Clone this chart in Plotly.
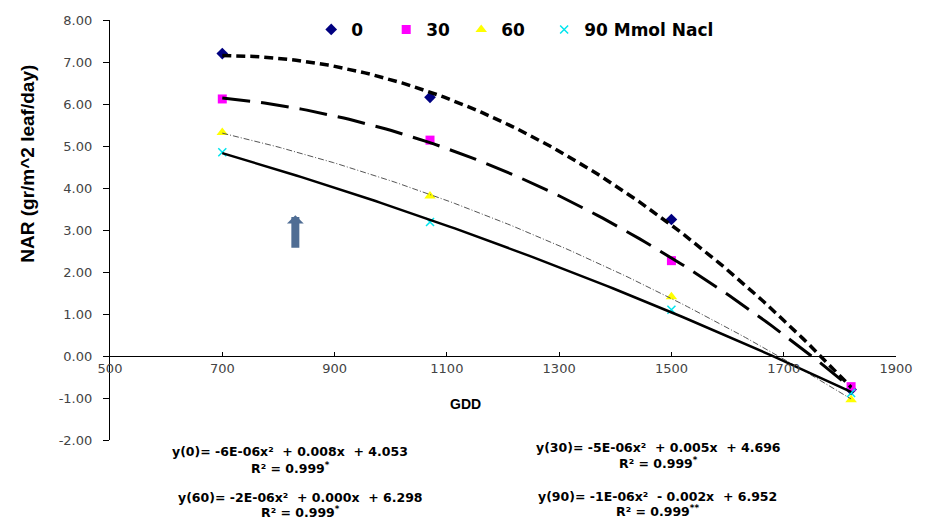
import numpy as np
import plotly.graph_objects as go

# Growing degree days at each sampling
gdd = [700, 1070, 1500, 1820]

# Net assimilation rate per salinity level
nar_0 = [7.20, 6.16, 3.25, -0.80]
nar_30 = [6.12, 5.14, 2.27, -0.73]
nar_60 = [5.32, 3.81, 1.41, -1.04]
nar_90 = [4.85, 3.19, 1.10, -0.88]

series_names = ["0", "30", "60", "90 Mmol Nacl"]

x_tick_vals = [500, 700, 900, 1100, 1300, 1500, 1700, 1900]
y_tick_vals = [-2, -1, 0, 1, 2, 3, 4, 5, 6, 7, 8]
y_tick_labels = ["-2.00", "-1.00", "0.00", "1.00", "2.00", "3.00",
                 "4.00", "5.00", "6.00", "7.00", "8.00"]

equations = [
    ("y(0)= -6E-06x²  + 0.008x  + 4.053", "R² = 0.999<sup>*</sup>"),
    ("y(30)= -5E-06x²  + 0.005x  + 4.696", "R² = 0.999<sup>*</sup>"),
    ("y(60)= -2E-06x²  + 0.000x  + 6.298", "R² = 0.999<sup>*</sup>"),
    ("y(90)= -1E-06x²  - 0.002x  + 6.952", "R² = 0.999<sup>**</sup>"),
]

markers = [
    dict(symbol="diamond", size=9, color="#000080"),
    dict(symbol="square", size=9, color="#FF00FF"),
    dict(symbol="triangle-up", size=10, color="#FFFF00"),
    dict(symbol="x-thin", size=8, color="#00E5EE", line=dict(color="#00E5EE", width=1.5)),
]
legend_ids = ["legend", "legend", "legend", "legend2"]
trend_styles = [
    dict(color="black", width=3.5, dash="9px,5px"),
    dict(color="black", width=3, dash="28px,11px"),
    dict(color="#555555", width=1, dash="6px,2px,1px,2px"),
    dict(color="black", width=2.5, dash="solid"),
]

all_series = [nar_0, nar_30, nar_60, nar_90]

fig = go.Figure()

# Observed points
for name, vals, mk, lg in zip(series_names, all_series, markers, legend_ids):
    fig.add_trace(go.Scatter(x=gdd, y=vals, mode="markers", name=name,
                             marker=mk, legend=lg, hoverinfo="skip"))

# Second-order polynomial trend lines fitted to each series
xs = np.linspace(min(gdd), max(gdd), 120)
for vals, st in zip(all_series, trend_styles):
    coef = np.polyfit(gdd, vals, 2)
    fig.add_trace(go.Scatter(x=xs, y=np.polyval(coef, xs), mode="lines",
                             line=st, showlegend=False, hoverinfo="skip"))

tick_font = dict(family="DejaVu Sans", size=13, color="#444444")
legend_font = dict(family="DejaVu Sans", size=17, color="black", weight="bold")

fig.update_layout(
    width=925, height=519,
    margin=dict(l=110, r=22, t=14, b=79),
    paper_bgcolor="white", plot_bgcolor="white",
    showlegend=True,
    legend=dict(orientation="h", x=(313 - 110) / 793, xanchor="left",
                y=(440 - 24) / 426, yanchor="middle", font=legend_font,
                entrywidth=30, entrywidthmode="pixels", itemwidth=30,
                bgcolor="rgba(0,0,0,0)", traceorder="normal"),
    legend2=dict(orientation="h", x=(548 - 110) / 793, xanchor="left",
                 y=(440 - 24) / 426, yanchor="middle", font=legend_font,
                 itemwidth=30, bgcolor="rgba(0,0,0,0)"),
    xaxis=dict(range=[500, 1900], tickvals=x_tick_vals, showgrid=False, zeroline=False,
               showline=True, linecolor="black", linewidth=1.2,
               ticks="inside", ticklen=4, tickcolor="black",
               anchor="free", position=0.2, tickfont=tick_font, ticklabelstandoff=0),
    yaxis=dict(range=[-2, 8], tickvals=y_tick_vals, ticktext=y_tick_labels,
               showgrid=False, zeroline=False, showline=True, linecolor="black",
               linewidth=1.2, ticks="outside", ticklen=6, tickcolor="black",
               tickfont=tick_font, ticklabelstandoff=8),
)

annotations = [
    # axis titles
    dict(text="NAR (gr/m^2 leaf/day)", xref="paper", yref="paper",
         x=(27 - 110) / 793, y=(440 - 160) / 426, xanchor="center", yanchor="middle",
         textangle=-90, showarrow=False,
         font=dict(family="Liberation Sans", size=19, color="black", weight="bold")),
    dict(text="GDD", xref="paper", yref="paper", x=(469 - 110) / 793, y=(440 - 403) / 426,
         xanchor="center", yanchor="middle", showarrow=False,
         font=dict(family="Liberation Sans", size=14, color="black", weight="bold")),
    # up arrow marker on the plot
    dict(text="", xref="paper", yref="paper", x=(297 - 110) / 793, y=(440 - 212) / 426,
         ax=0, ay=34, showarrow=True, arrowhead=1, arrowsize=0.35, arrowwidth=8,
         arrowcolor="#4F6D94"),
]

eq_font = dict(family="DejaVu Sans", size=12.5, color="black", weight="bold")
eq_pos = [(292, 452, 468), (663, 448, 463), (302, 498, 513), (662, 497, 512)]
for (eq, r2), (px, py1, py2) in zip(equations, eq_pos):
    for txt, py in ((eq, py1), (r2, py2)):
        annotations.append(dict(text=txt, xref="paper", yref="paper",
                                x=(px - 110) / 793, y=(440 - py) / 426,
                                xanchor="center", yanchor="middle", align="center",
                                showarrow=False, font=eq_font))

fig.update_layout(annotations=annotations)

fig.write_html("out.html")
